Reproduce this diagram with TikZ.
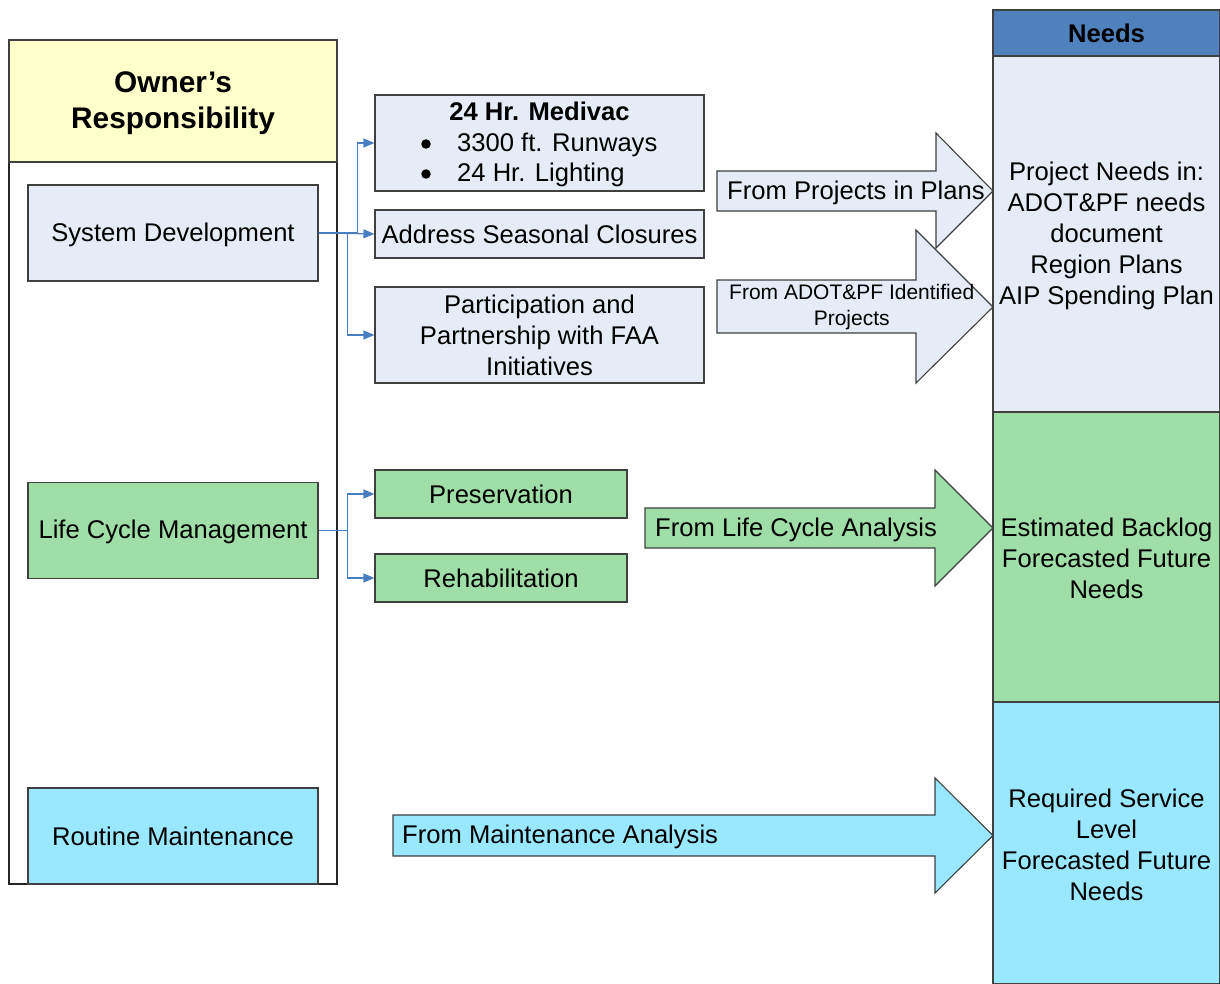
\documentclass[tikz,border=0pt]{standalone}
\usepackage{fontspec}
\setmainfont{Liberation Sans}
\usetikzlibrary{arrows.meta}
\definecolor{lblue}{RGB}{230,236,247}
\definecolor{lgreen}{RGB}{160,222,168}
\definecolor{lcyan}{RGB}{153,232,255}
\definecolor{lyellow}{RGB}{255,255,204}
\definecolor{hblue}{RGB}{79,129,189}
\definecolor{conn}{RGB}{74,126,193}
\begin{document}
\begin{tikzpicture}[x=1pt,y=-1pt,
  txt/.style={font=\fontsize{25.6}{31}\selectfont, align=center, inner sep=0pt},
  box/.style={draw=black!75, line width=1.1pt, txt},
  sect/.style={draw=black!75, line width=1.1pt, inner sep=0pt, minimum width=227},
  blockarrow/.style={draw=black!75, line width=1.1pt, line join=miter},
  conn/.style={draw=conn, line width=1.1pt, -{Triangle[length=11pt,width=9pt]}},
  bul/.style={circle, fill=black, inner sep=0pt, minimum size=9.5}
]
\useasboundingbox (0,0) rectangle (1220,984);

% Needs column
\node[sect, fill=hblue, minimum height=46, font=\fontsize{25.6}{30}\selectfont\bfseries] (needs) at (1106.5,33) {Needs};
\node[sect, fill=lblue, minimum height=356] (n1) at (1106.5,234) {};
\node[txt] at ([yshift=-2pt]n1.center) {Project Needs in:\\ADOT\&PF needs\\document\\Region Plans\\AIP Spending Plan};
\node[sect, fill=lgreen, minimum height=290] (n2) at (1106.5,557) {};
\node[txt] at ([yshift=-1pt]n2.center) {Estimated Backlog\\Forecasted Future\\Needs};
\node[sect, fill=lcyan, minimum height=282] (n3) at (1106.5,843) {};
\node[txt] at ([yshift=-2pt]n3.center) {Required Service\\Level\\Forecasted Future\\Needs};

% Left column
\node[draw=black!85, line width=1.1pt, fill=white, minimum width=328, minimum height=844, inner sep=0pt] (col) at (173,462) {};
\node[box, fill=lyellow, minimum width=328, minimum height=122] (own) at (173,101) {};
\node[txt, font=\fontsize{29.8}{36}\selectfont\bfseries] at ([yshift=-2pt]own.center) {Owner’s\\Responsibility};
\node[box, fill=lblue, minimum width=290, minimum height=96] (sd) at (173,233) {};
\node[txt] at ([yshift=-2pt]sd.center) {System Development};
\node[box, fill=lgreen, minimum width=290, minimum height=96] (lcm) at (173,530.5) {};
\node[txt] at ([yshift=-1pt]lcm.center) {Life Cycle Management};
\node[box, fill=lcyan, minimum width=290, minimum height=96] (rm) at (173,836) {Routine Maintenance};

% Middle boxes
\node[box, fill=lblue, minimum width=329, minimum height=96] (med) at (539.5,143) {};
\node[txt, font=\fontsize{25.6}{31}\selectfont\bfseries] at (539.5,111) {24 Hr. Medivac};
\node[bul] (b1) at (426,144) {};
\node[bul] (b2) at (426,174) {};
\node[txt, anchor=west] at (457,145) {3300 ft. Runways};
\node[txt, anchor=west] at (457,175) {24 Hr. Lighting};
\node[box, fill=lblue, minimum width=329, minimum height=48] (asc) at (539.5,234) {Address Seasonal Closures};
\node[box, fill=lblue, minimum width=329, minimum height=96] (pp) at (539.5,335) {Participation and\\Partnership with FAA\\Initiatives};
\node[box, fill=lgreen, minimum width=252, minimum height=48] (pres) at (501,494) {Preservation};
\node[box, fill=lgreen, minimum width=252, minimum height=48] (rehab) at (501,578) {Rehabilitation};

% Connectors
\draw[conn] (sd.east) -- ++(39,0) |- (med.west);
\draw[conn] (sd.east) -- (asc.west);
\draw[conn] (sd.east) -- ++(29,0) |- (pp.west);
\draw[conn] (lcm.east) -- ++(29,0) |- (pres.west);
\draw[conn] (lcm.east) -- ++(29,0) |- (rehab.west);

% Block arrows
\draw[blockarrow, fill=lblue] (717,171) -- (936,171) -- (936,133) -- (993,191) -- (936,248) -- (936,211) -- (717,211) -- cycle;
\node[txt, anchor=west] (a1) at (727,193) {From Projects in Plans};
\draw[blockarrow, fill=lblue] (717,280) -- (916,280) -- (916,230) -- (993,307) -- (916,383) -- (916,333) -- (717,333) -- cycle;
\node[txt, anchor=west, font=\fontsize{21}{26}\selectfont] (a2) at (729,307) {From ADOT\&PF Identified\\Projects};
\draw[blockarrow, fill=lgreen] (645,508) -- (935,508) -- (935,470) -- (993,528) -- (935,586) -- (935,548) -- (645,548) -- cycle;
\node[txt, anchor=west] (a3) at (655,530) {From Life Cycle Analysis};
\draw[blockarrow, fill=lcyan] (393,815) -- (935,815) -- (935,778) -- (993,835.5) -- (935,893) -- (935,856) -- (393,856) -- cycle;
\node[txt, anchor=west] (a4) at (402,837) {From Maintenance Analysis};
\end{tikzpicture}
\end{document}
